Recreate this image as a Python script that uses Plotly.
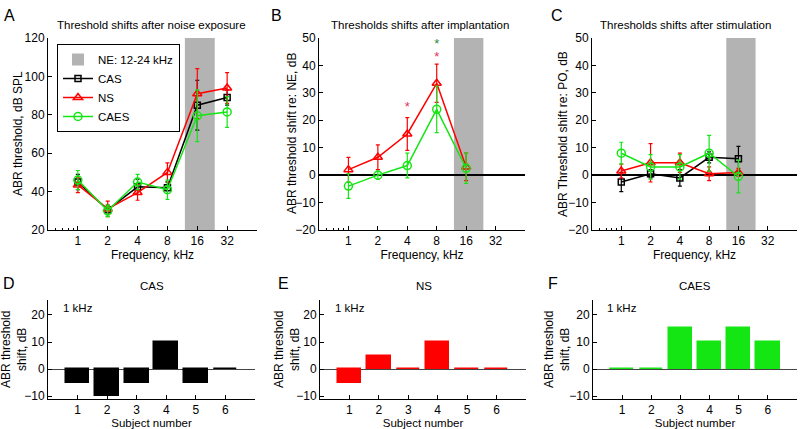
import plotly.graph_objects as go
import numpy as np

# frequencies (kHz) and group means / errors
freq_a = [1, 2, 4, 8, 16, 32]
freq_bc = [1, 2, 4, 8, 16]

cas_a = [45, 30.5, 42.5, 42, 85, 89]
cas_a_err = [4, 2.5, 4, 3, 13, 4]
ns_a = [43.5, 31, 39.5, 50, 91, 94]
ns_a_err = [4, 4, 4, 5, 13, 8]
caes_a = [46, 30, 45, 41, 79.5, 81.5]
caes_a_err = [5, 3, 4, 5, 13.5, 8]

ns_b = [2, 6.5, 15, 33.5, 3]
ns_b_err = [4.5, 4.5, 6, 7, 5]
caes_b = [-4, 0, 3.5, 24, 2.5]
caes_b_err = [4.5, 1.5, 4.5, 8.5, 5.5]

cas_c = [-2.5, 0.5, -1, 6.5, 6]
cas_c_err = [3.5, 1.5, 3, 2, 4.5]
ns_c = [1.5, 4.5, 4.5, 0.5, 1]
ns_c_err = [2.5, 7, 3.5, 2.5, 1.5]
caes_c = [8, 3, 3, 8, -0.5]
caes_c_err = [4, 4.5, 4.5, 6.5, 6]

# significance markers in B
star_ns_freq = [4, 8]
star_ns_y = [24.5, 42.7]
star_caes_freq = [8]
star_caes_y = [47.4]

subjects = [1, 2, 3, 4, 5, 6]
cas_1k = [-5, -10, -5, 10, -5, 0]
ns_1k = [-5, 5, 0, 10, 0, 0]
caes_1k = [0, 0, 15, 10, 15, 10]

BLACK, RED, GREEN, GRAY = "black", "#ff0000", "#14e614", "#b3b3b3"
FONT = "Liberation Sans, Arial, sans-serif"

W, H = 800, 429


def px(x):
    return x / W


def py(y):
    return 1 - y / H


styles = {
    "CAS": dict(color=BLACK, symbol="square-open", size=6),
    "NS": dict(color=RED, symbol="triangle-up-open", size=8),
    "CAES": dict(color=GREEN, symbol="circle-open", size=8),
}

fig = go.Figure()


def add_line(name, x, y, err, xa, ya, legend=False):
    s = styles[name]
    fig.add_trace(go.Scatter(
        x=x, y=y, mode="lines+markers", name=name, showlegend=legend,
        line=dict(color=s["color"], width=1.5),
        marker=dict(symbol=s["symbol"], size=s["size"], color=s["color"],
                    line=dict(width=1.5, color=s["color"])),
        error_y=dict(type="data", array=err, color=s["color"], thickness=1.2, width=2),
        xaxis=xa, yaxis=ya, legendrank=10))


add_line("CAS", freq_a, cas_a, cas_a_err, "x", "y", True)
add_line("NS", freq_a, ns_a, ns_a_err, "x", "y", True)
add_line("CAES", freq_a, caes_a, caes_a_err, "x", "y", True)

add_line("NS", freq_bc, ns_b, ns_b_err, "x2", "y2")
add_line("CAES", freq_bc, caes_b, caes_b_err, "x2", "y2")

add_line("CAS", freq_bc, cas_c, cas_c_err, "x3", "y3")
add_line("NS", freq_bc, ns_c, ns_c_err, "x3", "y3")
add_line("CAES", freq_bc, caes_c, caes_c_err, "x3", "y3")

fig.add_trace(go.Scatter(x=star_ns_freq, y=star_ns_y, mode="text",
                         text=["*"] * len(star_ns_y),
                         textfont=dict(color="#dd3558", size=13, family=FONT),
                         xaxis="x2", yaxis="y2", showlegend=False))
fig.add_trace(go.Scatter(x=star_caes_freq, y=star_caes_y, mode="text",
                         text=["*"] * len(star_caes_y),
                         textfont=dict(color="#2e8b3a", size=13, family=FONT),
                         xaxis="x2", yaxis="y2", showlegend=False))

for vals, col, xa, ya in [(cas_1k, BLACK, "x4", "y4"), (ns_1k, RED, "x5", "y5"),
                          (caes_1k, GREEN, "x6", "y6")]:
    fig.add_trace(go.Bar(x=subjects, y=vals, width=0.8, marker_color=col,
                         marker_line=dict(color=col, width=1.5),
                         xaxis=xa, yaxis=ya, showlegend=False))

# noise band 12-24 kHz
for i, xr in enumerate(["x", "x2", "x3"]):
    yr = "y" if i == 0 else "y%d" % (i + 1)
    fig.add_shape(type="rect", xref=xr, yref=yr + " domain", x0=12, x1=24, y0=0, y1=1,
                  fillcolor=GRAY, line_width=0, layer="below",
                  showlegend=(i == 0), name="NE: 12-24 kHz", legendrank=1)

axis_common = dict(showline=True, linecolor="black", linewidth=1, ticks="inside",
                   ticklen=4, tickcolor="black", showgrid=False, zeroline=False,
                   automargin=False,
                   tickfont=dict(size=12, color="black", family=FONT),
                   title_font=dict(size=12, color="black", family=FONT))

top = [py(230), py(38)]
bot = [py(399), py(300)]
xdom_top = [[px(48), px(257)], [px(319), px(525)], [px(592), px(797)]]
xdom_bot = [[px(48), px(255)], [px(320), px(526)], [px(593), px(797)]]

freq_ax = dict(axis_common, type="log", range=[np.log10(0.5), np.log10(64)],
               tickvals=freq_a, ticktext=[str(f) for f in freq_a],
               title_text="Frequency, kHz", title_standoff=1,
               minor=dict(tickvals=[0.6, 0.7, 0.8, 0.9], ticks="inside", ticklen=2,
                          tickcolor="black"))
subj_ax = dict(axis_common, range=[0, 7], tickvals=subjects,
               title_text="Subject number", title_standoff=3,
               title_font=dict(size=11.5, color="black", family=FONT))

lay = {}
for i in range(3):
    sfx = "" if i == 0 else str(i + 1)
    lay["xaxis" + sfx] = dict(freq_ax, domain=xdom_top[i], anchor="y" + sfx)
    if i == 0:
        yax = dict(axis_common, range=[20, 120], dtick=20)
    else:
        yax = dict(axis_common, range=[-20, 50], dtick=10, zeroline=True,
                   zerolinecolor="black", zerolinewidth=1.5)
    lay["yaxis" + sfx] = dict(yax, domain=top, anchor="x" + sfx)
for i in range(3):
    sfx = str(i + 4)
    lay["xaxis" + sfx] = dict(subj_ax, domain=xdom_bot[i], anchor="y" + sfx)
    lay["yaxis" + sfx] = dict(axis_common, domain=bot, anchor="x" + sfx,
                              range=[-11, 25.5], tickvals=[-10, 0, 10, 20],
                              zeroline=True, zerolinecolor="#444444", zerolinewidth=1)

fig.update_layout(**lay)


def label(txt, x, y, size, angle=0):
    return dict(text=txt, x=px(x), y=py(y), xref="paper", yref="paper",
                xanchor="center", yanchor="middle", showarrow=False, textangle=angle,
                font=dict(size=size, family=FONT, color="black"))


ann = []
for txt, x, y in [("A", 9, 15), ("B", 276, 15), ("C", 557, 15),
                  ("D", 9, 283), ("E", 283, 283), ("F", 553, 283)]:
    ann.append(label(txt, x, y, 16))
for txt, x, y in [("Threshold shifts after noise exposure", 151, 25),
                  ("Thresholds shifts after implantation", 420, 25),
                  ("Thresholds shifts after stimulation", 685, 25),
                  ("CAS", 152, 286), ("NS", 424, 286), ("CAES", 695, 286)]:
    ann.append(label(txt, x, y, 11.5))
for x in [78, 350, 622]:
    ann.append(label("1 kHz", x, 308, 11.5))
# y-axis titles
for txt, x in [("ABR threshold, dB SPL", 18),
               ("ABR threshold shift re: NE, dB", 292),
               ("ABR Threshold shift re: PO, dB", 563)]:
    ann.append(label(txt, x, 134, 12, -90))
for x in [14, 287, 557]:
    ann.append(label("ABR threshold<br>shift, dB", x, 350, 12, -90))

fig.update_layout(
    width=W, height=H, margin=dict(l=0, r=0, t=0, b=0, autoexpand=False),
    plot_bgcolor="white", paper_bgcolor="white",
    font=dict(family=FONT, color="black"),
    annotations=ann, bargap=0,
    legend=dict(x=px(57), y=py(44), xanchor="left", yanchor="top",
                bordercolor="black", borderwidth=1, bgcolor="white",
                font=dict(size=11.5, family=FONT, color="black"),
                tracegroupgap=0, itemwidth=30),
)

# drop the page's default body margin so the figure sits at the window corner
fig.write_html("out.html", config={"displayModeBar": False},
               post_script="document.body.style.margin = '0px';")
